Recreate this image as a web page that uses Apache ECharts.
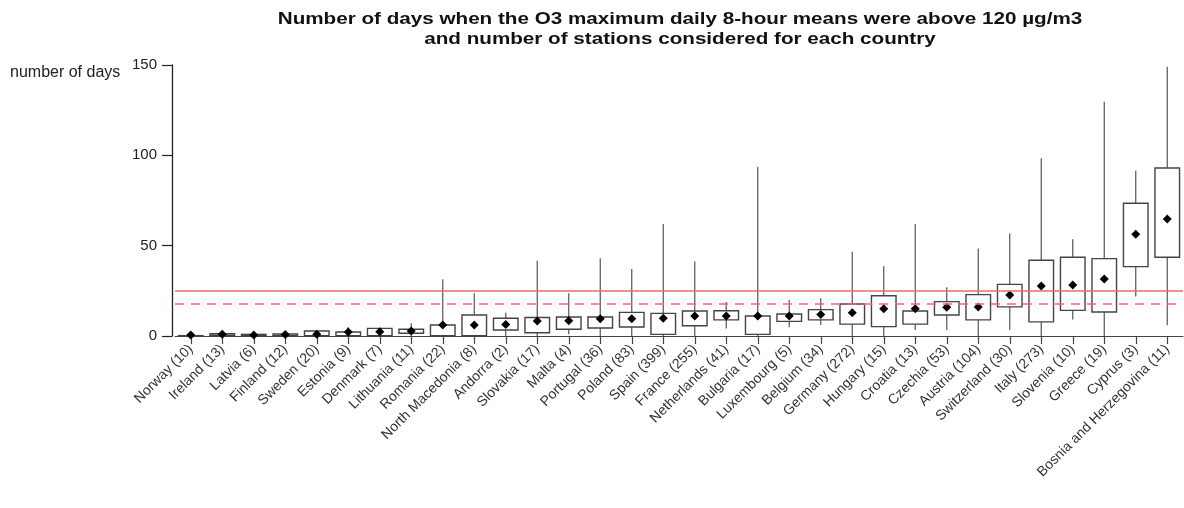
<!DOCTYPE html>
<html>
<head>
<meta charset="utf-8">
<script src="https://cdn.jsdelivr.net/npm/echarts@6/dist/echarts.min.js"></script>
<style>html,body{margin:0;padding:0;background:#fff;}#c{width:1184px;height:508px;}</style>
</head>
<body>
<div id="c"></div>
<script>
const categories = ["Norway (10)","Ireland (13)","Latvia (6)","Finland (12)","Sweden (20)","Estonia (9)","Denmark (7)","Lithuania (11)","Romania (22)","North Macedonia (8)","Andorra (2)","Slovakia (17)","Malta (4)","Portugal (36)","Poland (83)","Spain (399)","France (255)","Netherlands (41)","Bulgaria (17)","Luxembourg (5)","Belgium (34)","Germany (272)","Hungary (15)","Croatia (13)","Czechia (53)","Austria (104)","Switzerland (30)","Italy (273)","Slovenia (10)","Greece (19)","Cyprus (3)","Bosnia and Herzegovina (11)"];
const whiskerLow = [0,0,0,0,0,0,0,0,0,0,0,0,1,0,0,0,0,4.2,0,4.8,6.1,0,0,3.3,3.3,0,3.3,0,9.2,0,21.8,5.9];
const q1 =        [0,0.4,0.2,0.3,0.2,0.2,0.2,1.5,0.2,0.2,3.3,1.8,3.7,4.4,5.0,0.9,5.7,8.9,0.9,8.1,8.9,6.6,5.2,6.6,11.6,8.9,16.1,7.8,14.2,13.3,38.4,43.6];
const q3 =        [0.2,1.3,0.9,1.2,2.8,2.2,4.2,3.7,6.1,11.6,9.8,10.2,10.5,10.5,13.1,12.5,13.8,14.0,11.1,12.2,14.6,17.7,22.3,13.8,19.0,22.9,28.6,41.9,43.6,42.8,73.5,93.0];
const whiskerHigh=[1,1.5,1,1.5,2.8,4.8,4.2,7.0,31.4,23.6,12.9,41.7,23.6,43.0,37.1,62.0,41.2,18.8,93.7,19.9,20.9,46.7,38.8,62.0,27.0,48.5,56.7,98.4,53.5,129.7,91.5,149.0];
const means =     [0.5,0.9,0.5,0.8,1.0,2.2,2.4,2.8,6.1,6.1,6.3,8.3,8.5,9.6,9.6,9.8,11.1,11.1,11.1,11.1,11.9,12.9,15.1,15.1,15.9,16.1,22.7,27.7,28.2,31.6,56.3,64.8];
const yTicks = [0,50,100,150];
const refSolid = 25;
const refDashed = 18;

const boxData = categories.map((c,i)=>[i, whiskerLow[i], q1[i], q3[i], whiskerHigh[i], means[i]]);

const chart = echarts.init(document.getElementById('c'));
const FONT = 'Liberation Sans, Arial, sans-serif';
chart.setOption({
  animation:false,
  backgroundColor:'#fff',
  graphic:[
    {type:'text', x:680, y:10, scaleX:1.29, style:{text:'Number of days when the O3 maximum daily 8-hour means were above 120 µg/m3\nand number of stations considered for each country', align:'center', textAlign:'center', verticalAlign:'top', textVerticalAlign:'top', font:'bold 16px '+FONT, lineHeight:20, fill:'#111'}},
    {type:'text', x:10, y:73, style:{text:'number of days', font:'16px '+FONT, fill:'#222', verticalAlign:'middle', textVerticalAlign:'middle'}}
  ],
  grid:{left:175, top:65, width:1008, height:271},
  xAxis:{
    type:'category', data:categories, boundaryGap:true,
    axisLine:{show:true, lineStyle:{color:'#444', width:1.2}},
    axisTick:{show:true, alignWithLabel:true, length:8, lineStyle:{color:'#444', width:1.2}},
    axisLabel:{rotate:45, interval:0, fontSize:14, fontFamily:FONT, color:'#333', margin:11}
  },
  yAxis:{
    type:'value', min:0, max:150, interval:50, offset:3,
    splitLine:{show:false},
    axisLine:{show:true, lineStyle:{color:'#222', width:1.3}},
    axisTick:{show:true, length:10, lineStyle:{color:'#222', width:1.2}},
    axisLabel:{fontSize:15, fontFamily:FONT, color:'#222', margin:15}
  },
  series:[{
    type:'custom',
    data:boxData,
    encode:{x:0, y:[1,2,3,4,5]},
    renderItem:function(params, api){
      const i = api.value(0);
      const lo = api.coord([i, api.value(1)]);
      const b1 = api.coord([i, api.value(2)]);
      const b3 = api.coord([i, api.value(3)]);
      const hi = api.coord([i, api.value(4)]);
      const mn = api.coord([i, api.value(5)]);
      const bw = api.size([1,0])[0]*0.78;
      const x = lo[0];
      const lineStyle = {stroke:'#555', lineWidth:1.2, fill:null};
      const d = 4.5;
      return {type:'group', children:[
        {type:'line', shape:{x1:x, y1:lo[1], x2:x, y2:b1[1]}, style:lineStyle},
        {type:'line', shape:{x1:x, y1:b3[1], x2:x, y2:hi[1]}, style:lineStyle},
        {type:'rect', shape:{x:x-bw/2, y:b3[1], width:bw, height:Math.max(b1[1]-b3[1],0.5)}, style:{fill:'#fff', stroke:'#444', lineWidth:1.4}},
        {type:'polygon', shape:{points:[[x,mn[1]-d],[x+d,mn[1]],[x,mn[1]+d],[x-d,mn[1]]]}, style:{fill:'#000'}}
      ]};
    },
    markLine:{
      silent:true, symbol:['none','none'], label:{show:false},
      data:[
        {yAxis:refSolid, lineStyle:{color:'#f06a6a', width:1.5, type:'solid'}},
        {yAxis:refDashed, lineStyle:{color:'#f06a6a', width:1.5, type:[9,7]}}
      ]
    },
    z:3
  }]
});
</script>
</body>
</html>
